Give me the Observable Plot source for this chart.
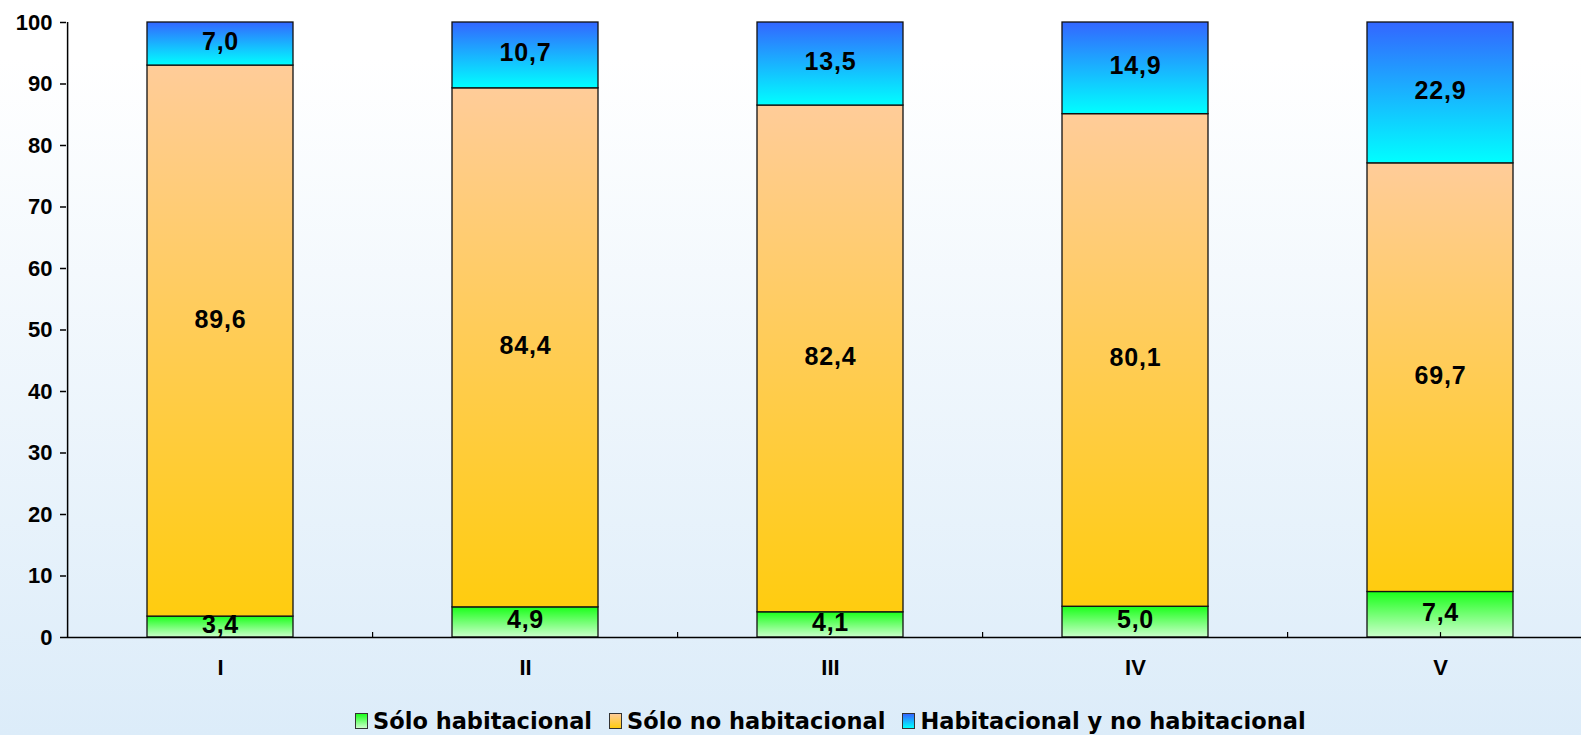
<!DOCTYPE html>
<html>
<head>
<meta charset="utf-8">
<script src="https://cdn.jsdelivr.net/npm/d3@7"></script>
<script src="https://cdn.jsdelivr.net/npm/@observablehq/plot@0.6"></script>
<style>
  html, body { margin: 0; padding: 0; width: 1581px; height: 735px; overflow: hidden; }
  body { background: linear-gradient(to bottom, #ffffff 0%, #ffffff 8%, #dcecf9 100%); position: relative; font-family: "Liberation Sans", Arial, sans-serif; }
  #chart { position: absolute; left: 0; top: 0; }
  #chart g[aria-label="text"] text { letter-spacing: 0.8px; }
  #legend { position: absolute; left: 355px; top: 708px; display: flex; align-items: center; white-space: nowrap;
            font-family: "DejaVu Sans", sans-serif; font-weight: bold; font-size: 22.5px; color: #000; }
  .item { display: flex; align-items: center; margin-right: 17px; }
  .sw { width: 11px; height: 14px; border: 1.5px solid #333; margin-right: 5px; box-sizing: content-box; }
</style>
</head>
<body>
<div id="chart"></div>
<div id="legend"></div>
<script>
// ---- data ----
const categories = ["I", "II", "III", "IV", "V"];
const series = ["Sólo habitacional", "Sólo no habitacional", "Habitacional y no habitacional"];
const soloHabitacional = [3.4, 4.9, 4.1, 5.0, 7.4];
const soloNoHabitacional = [89.6, 84.4, 82.4, 80.1, 69.7];
const habitacionalYNo = [7.0, 10.7, 13.5, 14.9, 22.9];
const yTicks = [0, 10, 20, 30, 40, 50, 60, 70, 80, 90, 100];

// gradients (top -> bottom) per series
const gradIds = ["gGreen", "gOrange", "gBlue"];
const gradStops = [["#1aff1a", "#ccffcc"], ["#ffcc99", "#ffcc0f"], ["#3366ff", "#00ffff"]];

const seriesValues = [soloHabitacional, soloNoHabitacional, habitacionalYNo];
const rows = [];
series.forEach((s, si) => categories.forEach((c, ci) => rows.push({cat: c, series: s, value: seriesValues[si][ci]})));

const fmt = v => d3.format(".1f")(v).replace(".", ",");
const isShifted = d => d.cat === "I" && d.series === series[1];

const W = 1600, H = 690;
const mL = 66, mR = 5, mT = 22, mB = 53;
const step = (W - mL - mR) / categories.length;

const plot = Plot.plot({
  width: W,
  height: H,
  marginLeft: mL,
  marginRight: mR,
  marginTop: mT,
  marginBottom: mB,
  style: {background: "transparent", maxWidth: "none", overflow: "visible",
          fontFamily: "'Liberation Sans', Arial, sans-serif", fontSize: "22px", fontWeight: "bold", color: "#000"},
  x: {domain: categories, paddingInner: 0.52, paddingOuter: 0.26, label: null, axis: null},
  y: {domain: [0, 100], label: null, axis: null},
  color: {domain: series, range: gradIds.map(id => `url(#${id})`)},
  marks: [
    Plot.axisY(yTicks, {tickSize: 6, tickPadding: 8, tickFormat: d => String(d), stroke: "#000", strokeWidth: 1.5, fill: "#000", fontSize: 22, fontWeight: "bold"}),
    Plot.axisX(categories, {tickSize: 0, tickPadding: 22, fill: "#000", fontSize: 22, fontWeight: "bold"}),
    Plot.barY(rows, Plot.stackY({x: "cat", y: "value", fill: "series", stroke: "#111", strokeWidth: 1.3})),
    Plot.ruleY([0], {stroke: "#000", strokeWidth: 1.5}),
    Plot.ruleX([categories[0]], {dx: -step / 2, y1: 0, y2: 100, stroke: "#000", strokeWidth: 1.5}),
    Plot.ruleX(categories.slice(1), {dx: -step / 2, y1: 0, y2: 0.8, stroke: "#000", strokeWidth: 1.2}),
    Plot.ruleX([categories[categories.length - 1]], {y1: 0, y2: 0.8, stroke: "#000", strokeWidth: 1.2}),
    Plot.text(rows, Plot.stackY({x: "cat", y: "value", text: d => isShifted(d) ? "" : fmt(d.value), dy: -2, fill: "#000", fontSize: 25, fontWeight: "bold"})),
    Plot.text(rows, Plot.stackY({x: "cat", y: "value", text: d => isShifted(d) ? fmt(d.value) : "", dy: -21, fill: "#000", fontSize: 25, fontWeight: "bold"}))
  ]
});

// add gradient defs
const svg = d3.select(plot.tagName.toLowerCase() === "svg" ? plot : plot.querySelector("svg"));
const defs = svg.insert("defs", ":first-child");
gradIds.forEach((id, i) => {
  const g = defs.append("linearGradient").attr("id", id).attr("x1", 0).attr("y1", 0).attr("x2", 0).attr("y2", 1);
  g.append("stop").attr("offset", "0%").attr("stop-color", gradStops[i][0]);
  g.append("stop").attr("offset", "100%").attr("stop-color", gradStops[i][1]);
});
document.getElementById("chart").appendChild(plot);

// legend
const legend = document.getElementById("legend");
series.forEach((s, i) => {
  const item = document.createElement("div");
  item.className = "item";
  const sw = document.createElement("span");
  sw.className = "sw";
  sw.style.background = `linear-gradient(to bottom, ${gradStops[i][0]}, ${gradStops[i][1]})`;
  const t = document.createElement("span");
  t.textContent = s;
  item.appendChild(sw);
  item.appendChild(t);
  legend.appendChild(item);
});
</script>
</body>
</html>
